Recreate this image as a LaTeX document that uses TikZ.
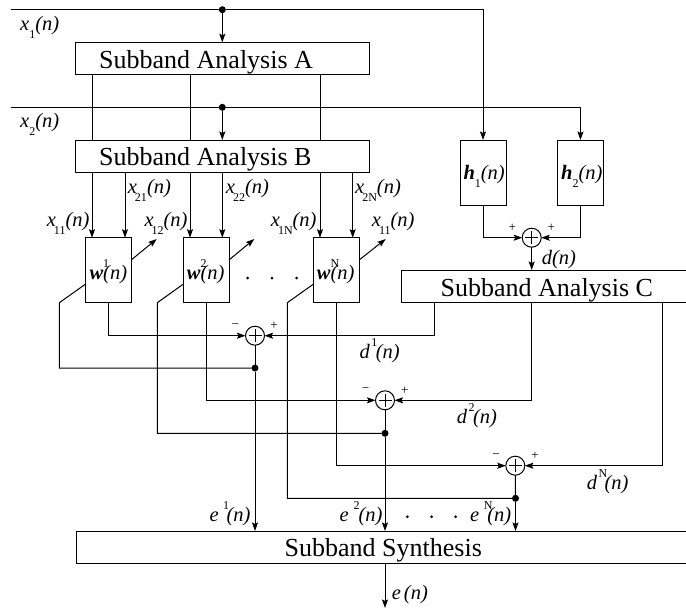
\documentclass[tikz,border=0pt]{standalone}
\usepackage{fontspec}
\setmainfont{Liberation Serif}
\usetikzlibrary{arrows.meta}
\newcommand\subs[1]{\raisebox{-8pt}{\fontsize{12}{12}\selectfont\upshape #1}}
\newcommand\supr[1]{\rlap{\raisebox{12pt}{\fontsize{12}{12}\selectfont\upshape #1}}}
\newcommand\bi[1]{{\bfseries\itshape #1}}
\tikzset{
  x=1pt,y=-1pt,
  wire/.style={line width=1pt,line join=miter},
  arr/.style={wire,-{Stealth[length=8.5pt,width=6pt,inset=1.5pt]}},
  blockbox/.style={draw,line width=1pt,inner sep=0pt,outer sep=0pt,anchor=north west},
  bigtext/.style={font=\fontsize{26}{30}\selectfont,inner sep=0pt,anchor=base west},
  lab/.style={font=\fontsize{20.5}{24}\selectfont\itshape,inner sep=0pt,anchor=base west},
  sign/.style={font=\fontsize{13}{14}\selectfont,inner sep=0pt},
  sumj/.style={draw,circle,line width=1pt,minimum size=19pt,inner sep=0pt,outer sep=0pt},
  jdot/.style={fill=black,circle,minimum size=7pt,inner sep=0pt,outer sep=0pt},
  ddot/.style={fill=black,circle,minimum size=3pt,inner sep=0pt,outer sep=0pt},
}
\begin{document}
\begin{tikzpicture}
\useasboundingbox (0,0) rectangle (686,614);
% blocks
\node[blockbox,minimum width=293.5pt,minimum height=32.4pt] (A) at (75.7,42.3) {};
\node[blockbox,minimum width=293.5pt,minimum height=32.7pt] (B) at (75.7,140) {};
\node[blockbox,minimum width=288pt,minimum height=32.7pt] (C) at (401.7,270) {};
\node[blockbox,minimum width=614pt,minimum height=32.3pt] (S) at (76,531) {};
\node[bigtext] (Atxt) at (99,68.5) {Subband Analysis A};
\node[bigtext] (Btxt) at (99,165.7) {Subband Analysis B};
\node[bigtext] (Ctxt) at (440.5,296) {Subband Analysis C};
\node[bigtext] (Stxt) at (284.5,556.7) {Subband Synthesis};
\node[blockbox,minimum width=45.5pt,minimum height=65pt] (w1) at (85.7,237.7) {};
\node[blockbox,minimum width=45.5pt,minimum height=65pt] (w2) at (183.5,237.7) {};
\node[blockbox,minimum width=45.5pt,minimum height=65pt] (w3) at (313.6,237.7) {};
\node[blockbox,minimum width=46pt,minimum height=65pt] (h1) at (460,140) {};
\node[blockbox,minimum width=45.5pt,minimum height=65pt] (h2) at (557.7,140) {};
% summing junctions
\node[sumj] (st) at (531.7,237.7) {};
\node[sumj] (s1) at (255,335.7) {};
\node[sumj] (s2) at (385,400.3) {};
\node[sumj] (s3) at (515.3,465.7) {};
\foreach \n in {st,s1,s2,s3}
  \draw[line width=.8pt] ([xshift=-6.5pt]\n.center) -- ([xshift=6.5pt]\n.center)
                         ([yshift=-6.5pt]\n.center) -- ([yshift=6.5pt]\n.center);
% junction dots
\node[jdot] (t1) at (222.3,9.7) {};
\node[jdot] (t2) at (222.3,107.3) {};
\node[jdot] (d1) at (255,368) {};
\node[jdot] (d2) at (385,433.3) {};
\node[jdot] (d3) at (515.5,498.3) {};
% free ends and column positions
\coordinate (i1) at (10.7,9.7);
\coordinate (i2) at (10.7,107.3);
\coordinate (c92) at (92,0);
\coordinate (c125) at (125,0);
\coordinate (c190) at (190,0);
\coordinate (c222) at (222.3,0);
\coordinate (c320) at (320,0);
\coordinate (c353) at (352.7,0);
\coordinate (cA) at (434,0);
\coordinate (cB) at (531.7,0);
\coordinate (cC) at (662,0);
\coordinate (o0) at (131.2,260);   \coordinate (o1) at (156.7,239);
\coordinate (p0) at (229,260);     \coordinate (p1) at (254.3,239);
\coordinate (q0) at (359.1,260);   \coordinate (q1) at (385.7,239);
\coordinate (l1a) at (85.7,284);   \coordinate (l1b) at (59.3,302.7);
\coordinate (l2a) at (183.5,284);  \coordinate (l2b) at (157.3,302.7);
\coordinate (l3a) at (313.6,284);  \coordinate (l3b) at (287.3,302.7);
\coordinate (eout) at (385,608);
% inputs
\draw[wire] (i1) -- (t1);
\draw[arr] (t1) -| (h1.north);
\draw[wire] (i2) -- (t2);
\draw[arr] (t2) -| (h2.north);
\draw[arr] (t1) -- (t1 |- A.north);
\draw[arr] (t2) -- (t2 |- B.north);
% A to B
\foreach \c in {c92,c190,c320}
  \draw[wire] (\c |- A.south) -- (\c |- B.north);
% B to filters
\draw[arr] (c92 |- B.south) -- (c92 |- w1.north);
\draw[arr] (c125 |- B.south) -- (c125 |- w1.north);
\draw[arr] (c190 |- B.south) -- (c190 |- w2.north);
\draw[arr] (c222 |- B.south) -- (c222 |- w2.north);
\draw[arr] (c320 |- B.south) -- (c320 |- w3.north);
\draw[arr] (c353 |- B.south) -- (c353 |- w3.north);
% adaptation arrows
\draw[arr] (o0) -- (o1);
\draw[arr] (p0) -- (p1);
\draw[arr] (q0) -- (q1);
% filters to sums
\draw[arr] (w1.south) |- (s1.west);
\draw[arr] (w2.south) |- (s2.west);
\draw[arr] (w3.south) |- (s3.west);
% desired signal
\draw[arr] (h1.south) |- (st.west);
\draw[arr] (h2.south) |- (st.east);
\draw[arr] (st.south) -- (st.south |- C.north);
\draw[arr] (cA |- C.south) |- (s1.east);
\draw[arr] (cB |- C.south) |- (s2.east);
\draw[arr] (cC |- C.south) |- (s3.east);
% errors
\draw[wire] (s1.south) -- (d1);
\draw[wire] (s2.south) -- (d2);
\draw[wire] (s3.south) -- (d3);
\draw[arr] (d1) -- (d1 |- S.north);
\draw[arr] (d2) -- (d2 |- S.north);
\draw[arr] (d3) -- (d3 |- S.north);
\draw[arr] (S.south -| d2) -- (eout);
% error feedback
\draw[wire] (l1a) -- (l1b) |- (d1);
\draw[wire] (l2a) -- (l2b) |- (d2);
\draw[wire] (l3a) -- (l3b) |- (d3);
% ellipsis dots
\node[ddot] (u1) at (247.7,278) {};
\node[ddot] (u2) at (272,278) {};
\node[ddot] (u3) at (296.7,278) {};
\node[ddot] (v1) at (407.3,516.7) {};
\node[ddot] (v2) at (431.7,516.7) {};
\node[ddot] (v3) at (455.7,516.7) {};
% signs
\node[sign] (sg1) at (512.3,227.7) {+};
\node[sign] (sg2) at (551.3,227.7) {+};
\node[sign] (sg3) at (235.3,325.7) {−};
\node[sign] (sg4) at (274,325.7) {+};
\node[sign] (sg5) at (365.5,390.5) {−};
\node[sign] (sg6) at (404.7,390.5) {+};
\node[sign] (sg7) at (496,455.7) {−};
\node[sign] (sg8) at (535,455.7) {+};
% labels
\node[lab] (lx1) at (20,30.7) {x\subs{1}(n)};
\node[lab] (lx2) at (20,127) {x\subs{2}(n)};
\node[lab] (lx11) at (46.7,226) {x\kern-2pt\subs{11}(n)};
\node[lab] (lx21) at (127.7,193.3) {x\kern-2pt\subs{21}(n)};
\node[lab] (lx22) at (225.7,193.3) {x\kern-2pt\subs{22}(n)};
\node[lab] (lx2N) at (355,193.3) {x\kern-2pt\subs{2N}(n)};
\node[lab] (lx12) at (144.3,226) {x\kern-2pt\subs{12}(n)};
\node[lab] (lx1N) at (270.7,226) {x\kern-2pt\subs{1N}(n)};
\node[lab] (lx11b) at (371.7,226) {x\kern-2pt\subs{11}(n)};
\node[lab] (lw1) at (89.3,279) {\bi{w}\supr{1}(n)};
\node[lab] (lw2) at (186.7,279) {\bi{w}\supr{2}(n)};
\node[lab] (lwN) at (316.7,279) {\bi{w}\supr{N}(n)};
\node[lab] (lh1) at (463.3,179) {\bi{h}\subs{1}(n)};
\node[lab] (lh2) at (561,179) {\bi{h}\subs{2}(n)};
\node[lab] (ld) at (541.7,264) {d(n)};
\node[lab] (ld1) at (359.3,358.3) {d\kern1.5pt\supr{1}\kern4.5pt(n)};
\node[lab] (ld2) at (456.7,423.3) {d\kern1.5pt\supr{2}\kern4.5pt(n)};
\node[lab] (ldN) at (586.7,489) {d\kern1.5pt\supr{N}\kern6pt(n)};
\node[lab] (le1) at (209.3,521) {e\kern4.5pt\supr{1}\kern3.5pt(n)};
\node[lab] (le2) at (339.3,521) {e\kern5pt\supr{2}\kern5pt(n)};
\node[lab] (leN) at (470,521) {e\kern4.5pt\supr{N}\kern3.5pt(n)};
\node[lab] (le) at (391.7,599.3) {e\kern3pt(n)};
\end{tikzpicture}
\end{document}
